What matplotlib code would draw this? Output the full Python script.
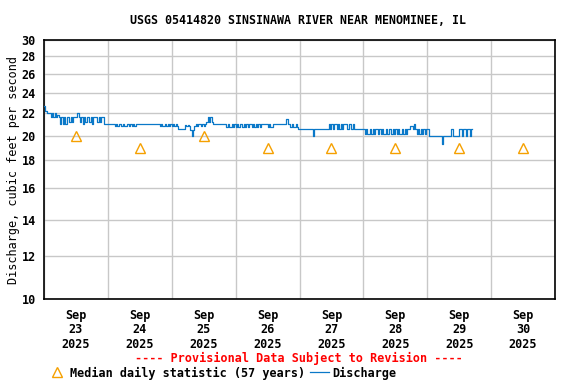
import matplotlib
matplotlib.use("Agg")
import matplotlib.pyplot as plt
import matplotlib.dates as mdates
from matplotlib.lines import Line2D
from matplotlib.ticker import FixedLocator, NullLocator, FixedFormatter
import numpy as np
import pandas as pd

plt.rcParams["font.family"] = "DejaVu Sans Mono"
plt.rcParams["font.weight"] = "bold"

TITLE = "USGS 05414820 SINSINAWA RIVER NEAR MENOMINEE, IL"

# discharge, cubic feet per second, every 30 minutes starting Sep 23 00:00
sep23 = [22.7, 22.2, 22.0, 22.0, 22.0, 21.6, 22.0, 21.6, 22.0, 21.6, 21.8, 21.6,
         21.0, 21.6, 21.0, 21.6, 21.0, 21.6, 21.6, 21.2, 21.6, 21.2, 21.6, 21.6,
         21.6, 22.0, 21.6, 21.2, 21.6, 21.0, 21.6, 21.2, 21.6, 21.6, 21.2, 21.6,
         21.0, 21.6, 21.6, 21.6, 21.2, 21.6, 21.2, 21.6, 21.6, 21.0, 21.0, 21.0]
sep24 = [21.0, 21.0, 21.0, 21.0, 21.0, 20.8, 21.0, 20.8, 21.0, 21.0, 20.8, 21.0,
         20.8, 20.8, 21.0, 21.0, 20.8, 21.0, 20.8, 21.0, 20.8, 21.0, 21.0, 21.0,
         21.0, 21.0, 21.0, 21.0, 21.0, 21.0, 21.0, 21.0, 21.0, 21.0, 21.0, 21.0,
         21.0, 21.0, 21.0, 20.8, 21.0, 20.8, 20.8, 21.0, 20.8, 21.0, 20.8, 21.0]
sep25 = [20.8, 21.0, 20.8, 21.0, 20.8, 20.6, 20.6, 20.6, 20.6, 20.6, 20.9, 20.8,
         20.9, 20.8, 20.5, 20.0, 20.5, 20.8, 21.0, 20.8, 21.0, 21.0, 20.8, 21.0,
         20.8, 21.0, 21.2, 21.6, 21.2, 21.6, 21.2, 21.0, 21.0, 21.0, 21.0, 21.0,
         21.0, 21.0, 21.0, 21.0, 21.0, 20.7, 21.0, 20.7, 20.7, 21.0, 20.7, 21.0]
sep26 = [20.7, 21.0, 20.7, 21.0, 21.0, 20.7, 21.0, 20.7, 21.0, 20.7, 21.0, 21.0,
         20.7, 21.0, 20.7, 21.0, 20.7, 21.0, 20.7, 21.0, 21.0, 21.0, 21.0, 21.0,
         20.7, 21.0, 20.7, 20.7, 21.0, 21.0, 21.0, 21.0, 21.0, 21.0, 21.0, 21.0,
         21.0, 21.0, 21.5, 21.0, 21.0, 20.7, 21.0, 20.7, 20.7, 21.0, 20.7, 20.6]
sep27 = [20.6, 20.6, 20.6, 20.6, 20.6, 20.6, 20.6, 20.6, 20.6, 20.6, 20.0, 20.6,
         20.6, 20.6, 20.6, 20.6, 20.6, 20.6, 20.6, 20.6, 20.6, 20.6, 21.0, 20.6,
         21.0, 20.6, 21.0, 21.0, 20.6, 21.0, 20.6, 21.0, 20.6, 21.0, 21.0, 21.0,
         20.6, 21.0, 21.0, 20.6, 21.0, 20.6, 20.6, 20.6, 20.6, 20.6, 20.6, 20.6]
sep28 = [20.6, 20.1, 20.6, 20.1, 20.1, 20.6, 20.1, 20.6, 20.1, 20.6, 20.6, 20.1,
         20.6, 20.1, 20.6, 20.1, 20.1, 20.6, 20.1, 20.6, 20.6, 20.1, 20.6, 20.1,
         20.6, 20.1, 20.6, 20.1, 20.1, 20.6, 20.1, 20.6, 20.1, 20.6, 20.6, 20.8,
         20.8, 20.6, 21.0, 20.6, 20.1, 20.6, 20.1, 20.6, 20.1, 20.6, 20.1, 20.6]
sep29 = [20.6, 20.0, 20.0, 20.0, 20.0, 20.0, 20.0, 20.0, 20.0, 20.0, 20.0, 19.3,
         20.0, 20.0, 20.0, 20.0, 20.0, 20.0, 20.6, 20.0, 20.0, 20.0, 20.0, 20.0,
         20.6, 20.6, 20.0, 20.6, 20.6, 20.0, 20.6, 20.6, 20.0, 20.6, 20.6]

discharge = sep23 + sep24 + sep25 + sep26 + sep27 + sep28 + sep29
times = pd.date_range("2025-09-23 00:00", periods=len(discharge), freq="30min")

median_days = pd.date_range("2025-09-23 12:00", periods=8, freq="D")
median_vals = [20, 19, 20, 19, 19, 19, 19, 19]

yticks = [10, 12, 14, 16, 18, 20, 22, 24, 26, 28, 30]
day_labels = [f"Sep\n{d}\n2025" for d in range(23, 31)]

fig = plt.figure(figsize=(5.76, 3.84), dpi=100)
ax = fig.add_axes([44 / 576, 1 - 299 / 384, 511 / 576, 259 / 384])

ax.plot(times, discharge, color="#0a78c8", lw=0.9, drawstyle="steps-post", zorder=3)
ax.plot(median_days, median_vals, ls="none", marker="^", ms=7, mfc="none",
        mec="#f5a000", mew=1.0, zorder=4)

ax.set_yscale("log")
ax.set_ylim(10, 30)
ax.yaxis.set_major_locator(FixedLocator(yticks))
ax.yaxis.set_major_formatter(FixedFormatter([str(v) for v in yticks]))
ax.yaxis.set_minor_locator(NullLocator())

ax.set_xlim(pd.Timestamp("2025-09-23"), pd.Timestamp("2025-10-01"))
ax.xaxis.set_major_locator(mdates.DayLocator())
ax.xaxis.set_major_formatter(plt.NullFormatter())
ax.xaxis.set_minor_locator(mdates.HourLocator(byhour=[12]))
ax.xaxis.set_minor_formatter(FixedFormatter(day_labels))

ax.grid(True, which="major", color="#c8c8c8", lw=1.0)
ax.set_axisbelow(True)
ax.tick_params(axis="both", which="both", length=0, labelsize=8.5)
ax.tick_params(axis="x", which="minor", pad=7)
ax.tick_params(axis="y", pad=6)
for lab in ax.get_xticklabels(minor=True):
    lab.set_linespacing(1.15)
for sp in ax.spines.values():
    sp.set_linewidth(1.2)

ax.set_ylabel("Discharge, cubic feet per second", fontsize=8.5, labelpad=1)
fig.text(298 / 576, 1 - 20 / 384, TITLE, ha="center", va="center", fontsize=8.4)
fig.text(299 / 576, 1 - 358 / 384, "---- Provisional Data Subject to Revision ----",
         ha="center", va="center", fontsize=8.5, color="red")

handles = [Line2D([], [], ls="none", marker="^", ms=7, mfc="none", mec="#f5a000", mew=1.0),
           Line2D([], [], color="#0a78c8", lw=0.9)]
fig.legend(handles, ["Median daily statistic (57 years)", "Discharge"],
           loc="center", bbox_to_anchor=(222 / 576, 1 - 373 / 384), ncol=2,
           frameon=False, fontsize=8.5, handlelength=1.6, handletextpad=0.3,
           columnspacing=0.4, borderpad=0, borderaxespad=0)

fig.savefig("out.png", dpi=100)
